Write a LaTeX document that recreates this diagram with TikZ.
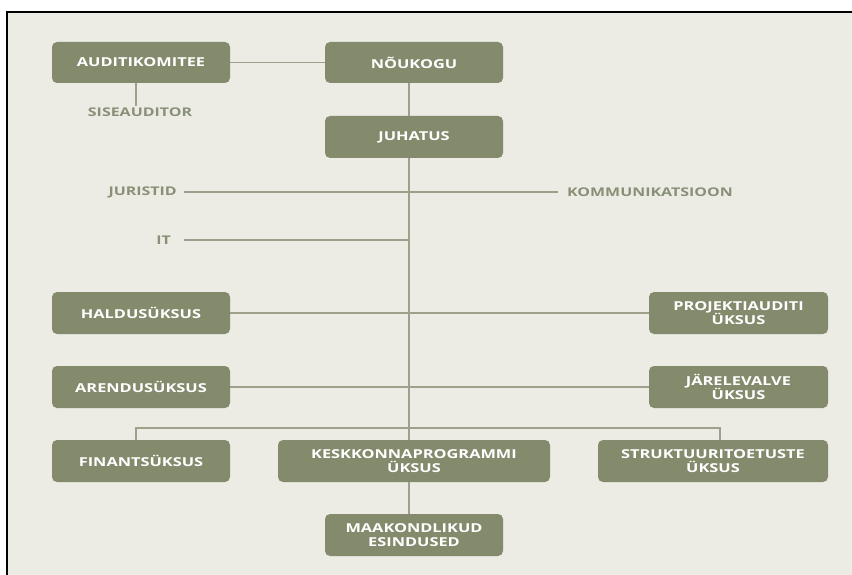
\documentclass[tikz,border=0pt]{standalone}
\usepackage{fontspec}
\setmainfont{Open Sans}[FakeStretch=1.33]
\definecolor{bg}{HTML}{ECECE4}
\definecolor{boxc}{HTML}{848B6C}
\definecolor{linec}{HTML}{9EA08C}
\definecolor{labc}{HTML}{8A9078}
\tikzset{
  orgbox/.style={fill=boxc, rounded corners=5pt, text=white, font=\fontsize{12.3}{14}\selectfont\bfseries, align=center, inner sep=0pt},
  lab/.style={text=labc, font=\fontsize{12}{13}\selectfont\bfseries, inner sep=1pt},
  conn/.style={draw=linec, line width=1.8pt}
}
\begin{document}
\begin{tikzpicture}[x=1pt,y=-1pt]
\useasboundingbox (0,0) rectangle (852,575);
\fill[white] (0,0) rectangle (852,575);
\fill[bg] (7,12) rectangle (852,575);
\draw[black, line width=2pt] (7,575) -- (7,12) -- (852,12);
% boxes
\node[orgbox, minimum width=178pt, minimum height=41pt] (aud) at (141,62.5) {AUDITIKOMITEE};
\node[orgbox, minimum width=178pt, minimum height=41pt] (nou) at (414,62.5) {NÕUKOGU};
\node[orgbox, minimum width=178pt, minimum height=42pt] (juh) at (414,137) {JUHATUS};
\node[orgbox, minimum width=178pt, minimum height=42pt] (hal) at (141,313) {HALDUSÜKSUS};
\node[orgbox, minimum width=179pt, minimum height=42pt] (proj) at (738.5,313) {PROJEKTIAUDITI\\ÜKSUS};
\node[orgbox, minimum width=178pt, minimum height=42pt] (are) at (141,387) {ARENDUSÜKSUS};
\node[orgbox, minimum width=179pt, minimum height=42pt] (jar) at (738.5,387) {JÄRELEVALVE\\ÜKSUS};
\node[orgbox, minimum width=178pt, minimum height=42pt] (fin) at (141,461) {FINANTSÜKSUS};
\node[orgbox, minimum width=272pt, minimum height=42pt] (kes) at (414,461) {KESKKONNAPROGRAMMI\\ÜKSUS};
\node[orgbox, minimum width=230pt, minimum height=42pt] (str) at (713,461) {STRUKTUURITOETUSTE\\ÜKSUS};
\node[orgbox, minimum width=178pt, minimum height=42pt] (maa) at (414,535) {MAAKONDLIKUD\\ESINDUSED};
% labels
\node[lab] (sis) at (140,112) {SISEAUDITOR};
\node[lab, anchor=east] (jur) at (178,192) {JURISTID};
\node[lab, anchor=west] (kom) at (566,192) {KOMMUNIKATSIOON};
\node[lab, anchor=east] (it) at (172,240) {IT};
% coordinates
\coordinate (tIT) at (409,240);
\coordinate (busL) at (136,428);
\coordinate (busR) at (720,428);
% connectors
\draw[conn] (aud.east) -- (nou.west);
\draw[conn] (aud.south -| busL) -- (sis.north -| busL);
\draw[conn] (nou.south -| tIT) -- (juh.north -| tIT);
\draw[conn] (juh.south -| tIT) -- (kes.north -| tIT);
\draw[conn] ([xshift=6pt]jur.east) -- ([xshift=-8pt]kom.west);
\draw[conn] ([xshift=12pt]it.east) -- (tIT);
\draw[conn] (hal.east) -- (proj.west);
\draw[conn] (are.east) -- (jar.west);
\draw[conn] (fin.north -| busL) -- (busL) -- (busR) -- (str.north -| busR);
\draw[conn] (kes.south -| tIT) -- (maa.north -| tIT);
\end{tikzpicture}
\end{document}
